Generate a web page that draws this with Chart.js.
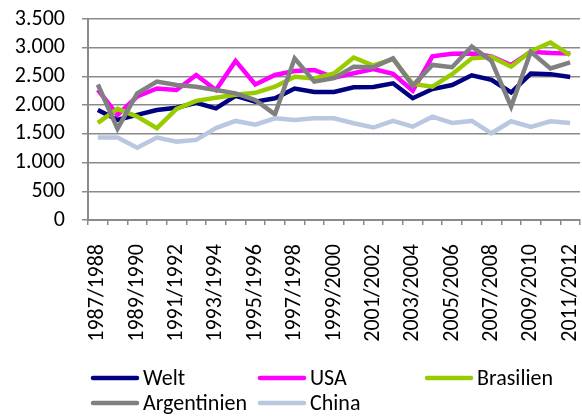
<!DOCTYPE html>
<html>
<head>
<meta charset="utf-8">
<script src="https://cdn.jsdelivr.net/npm/chart.js@4.4.1/dist/chart.umd.min.js"></script>
<style>
  html, body { margin: 0; padding: 0; background: #fff; }
  #wrap { width: 582px; height: 416px; position: relative; }
</style>
</head>
<body>
<div id="wrap"><canvas id="chart"></canvas></div>
<script>
const seasons = ['1987/1988', '1988/1989', '1989/1990', '1990/1991', '1991/1992', '1992/1993',
    '1993/1994', '1994/1995', '1995/1996', '1996/1997', '1997/1998', '1998/1999', '1999/2000',
    '2000/2001', '2001/2002', '2002/2003', '2003/2004', '2004/2005', '2005/2006', '2006/2007',
    '2007/2008', '2008/2009', '2009/2010', '2010/2011', '2011/2012'];

const welt = [1915, 1745, 1830, 1915, 1955, 2040, 1945, 2160, 2060, 2120, 2290, 2230, 2230,
    2310, 2315, 2380, 2120, 2280, 2350, 2520, 2440, 2220, 2550, 2540, 2490];
const usa = [2265, 1830, 2150, 2290, 2265, 2525, 2265, 2770, 2360, 2525, 2595, 2610, 2480,
    2555, 2630, 2545, 2250, 2850, 2895, 2900, 2850, 2700, 2930, 2910, 2900];
const brasilien = [1690, 1935, 1800, 1600, 1935, 2075, 2130, 2180, 2215, 2320, 2495, 2465, 2550,
    2830, 2690, 2800, 2370, 2320, 2540, 2815, 2840, 2670, 2940, 3090, 2870];
const argentinien = [2360, 1590, 2205, 2410, 2350, 2320, 2265, 2205, 2090, 1840, 2815, 2410, 2470,
    2670, 2660, 2815, 2340, 2700, 2660, 3020, 2770, 1975, 2930, 2640, 2745];
const china = [1435, 1435, 1260, 1435, 1365, 1395, 1600, 1725, 1660, 1770, 1740, 1770, 1770,
    1685, 1610, 1725, 1625, 1800, 1690, 1725, 1510, 1720, 1620, 1720, 1690];

const yTicks = [0, 500, 1000, 1500, 2000, 2500, 3000, 3500];

const FONT = "Carlito, 'Liberation Sans', Arial, sans-serif";
const GRID = '#8a8a8a';

function deNumber(v) {
    return String(v).replace(/\B(?=(\d{3})+(?!\d))/g, '.');
}

// Excel-like legend: fixed columns, two rows
const gridLegend = {
    id: 'gridLegend',
    afterDraw(chart) {
        const ctx = chart.ctx;
        const cols = [93, 260, 427];
        const rows = [378, 403];
        ctx.save();
        ctx.font = '22px ' + FONT;
        ctx.textBaseline = 'middle';
        chart.data.datasets.forEach(function(ds, i) {
            const x = cols[i % 3];
            const y = rows[Math.floor(i / 3)];
            ctx.strokeStyle = ds.borderColor;
            ctx.lineWidth = 4.5;
            ctx.lineCap = 'round';
            ctx.beginPath();
            ctx.moveTo(x, y);
            ctx.lineTo(x + 44, y);
            ctx.stroke();
            ctx.fillStyle = '#000';
            ctx.fillText(ds.label, x + 50, y + 1);
        });
        ctx.restore();
    }
};

const seriesStyle = {
    fill: false,
    borderWidth: 4.5,
    pointRadius: 0,
    pointHoverRadius: 0,
    tension: 0,
    borderJoinStyle: 'miter',
    borderCapStyle: 'butt'
};

new Chart(document.getElementById('chart').getContext('2d'), {
    type: 'line',
    data: {
        labels: seasons,
        datasets: [
            Object.assign({ label: 'Welt', data: welt, borderColor: '#000080', order: 5 }, seriesStyle),
            Object.assign({ label: 'USA', data: usa, borderColor: '#ff00ff', order: 4 }, seriesStyle),
            Object.assign({ label: 'Brasilien', data: brasilien, borderColor: '#99cc00', order: 3 }, seriesStyle),
            Object.assign({ label: 'Argentinien', data: argentinien, borderColor: '#808080', order: 2 }, seriesStyle),
            Object.assign({ label: 'China', data: china, borderColor: '#b9c7e0', order: 1 }, seriesStyle)
        ]
    },
    options: {
        responsive: true,
        maintainAspectRatio: false,
        animation: false,
        layout: { padding: { top: 19, right: 2, bottom: 70, left: 0 } },
        plugins: {
            legend: { display: false },
            tooltip: { enabled: false }
        },
        scales: {
            x: {
                offset: true,
                grid: {
                    offset: true,
                    drawOnChartArea: false,
                    drawTicks: true,
                    tickLength: 5,
                    color: GRID,
                    lineWidth: 1.5
                },
                border: { display: true, color: GRID, width: 2 },
                ticks: {
                    autoSkip: false,
                    maxRotation: 90,
                    minRotation: 90,
                    padding: 19,
                    color: '#000',
                    font: { family: FONT, size: 22 },
                    callback: function(value, index) {
                        return index % 2 === 0 ? seasons[index] : '';
                    }
                },
                afterFit: function(scale) {
                    scale.height = 126;
                    scale.paddingLeft = 0;
                    scale.paddingRight = 0;
                }
            },
            y: {
                min: 0,
                max: 3500,
                afterBuildTicks: function(scale) {
                    scale.ticks = yTicks.map(function(v) { return { value: v }; });
                },
                grid: {
                    color: GRID,
                    lineWidth: 1.5,
                    drawTicks: true,
                    tickLength: 6
                },
                border: { display: true, color: GRID, width: 2 },
                ticks: {
                    autoSkip: false,
                    padding: 17,
                    color: '#000',
                    font: { family: FONT, size: 22 },
                    callback: function(value) { return deNumber(value); }
                },
                afterFit: function(scale) {
                    scale.width = 88;
                    scale.paddingTop = 0;
                    scale.paddingBottom = 0;
                }
            }
        }
    },
    plugins: [gridLegend]
});
</script>
</body>
</html>
